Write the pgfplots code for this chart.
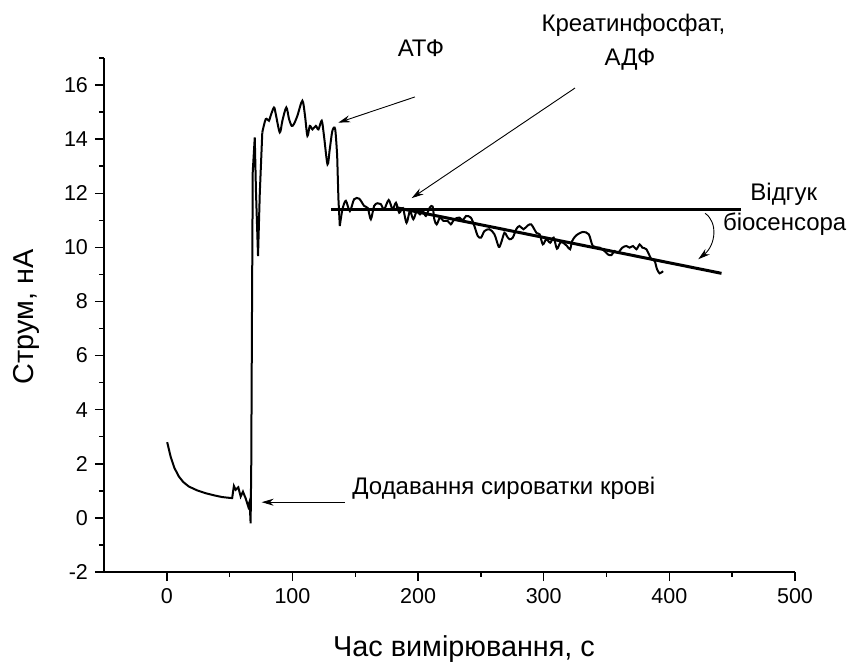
\documentclass[border=0pt]{standalone}
\usepackage{fontspec}
\setmainfont{Liberation Sans}
\usepackage{pgfplots}
\pgfplotsset{compat=1.18}
\usetikzlibrary{arrows.meta}
\begin{document}
\begin{tikzpicture}
\begin{axis}[
  at={(0,0)}, anchor=south west,
  scale only axis, width=345.5pt, height=257pt,
  xmin=-50, xmax=500, ymin=-2, ymax=17,
  axis x line*=bottom, axis y line*=left,
  xtick={0,100,...,500}, ytick={-2,0,...,16},
  minor xtick={50,150,...,450}, minor ytick={-1,1,...,17},
  tick align=outside,
  major tick length=4.5pt, minor tick length=2.5pt,
  tick style={black, line width=0.75pt},
  axis line style={line width=0.8pt},
  tick label style={font=\fontsize{10.75}{12}\selectfont},
  /pgf/number format/assume math mode=true,
  clip=false,
  xlabel={Час вимірювання, с},
  ylabel={Струм, нА},
  label style={font=\fontsize{14.4}{16}\selectfont},
  xlabel style={at={(axis description cs:0.521,-0.165)}, anchor=base},
  ylabel style={at={(axis description cs:-0.1027,0.4967)}, anchor=base},
]
% baseline and rise
\addplot[black, line width=1pt] coordinates {
(0.3,2.8) (3,2.27) (6,1.85) (9.6,1.53) (13,1.33) (17.5,1.16) (24,1.02) (31,0.91)
(38,0.83) (44,0.77) (52,0.73) (53.4,1.18) (54.8,1.04) (56.9,1.13) (58.8,0.79)
(60.6,0.97) (62.7,0.73) (64.8,0.42) (65.9,0.6) (66.7,-0.2) (67.2,1.9) (67.8,7.6)
(68.4,12.8) (70.0,14.06) (71.0,12.0) (72.6,9.68) (74.0,12.0) (76,14.25)
};
% plateau after ATP
\addplot[black, line width=1pt, smooth, tension=0.5] coordinates {
(76,14.25) (78.7,14.74)
(81.3,14.68) (82.6,14.86) (85.3,15.17) (86.7,14.93) (89.9,14.25) (92,14.68)
(95.1,15.17) (97.3,14.74) (99.4,14.49) (101.2,14.56) (103.9,14.86) (107.9,15.42)
(110,14.86) (111.9,14.12) (113.8,14.49) (115.9,14.36) (118.6,14.49) (120.7,14.36)
(123.3,14.68) (125.1,14.12) (127.9,13.07) (129.7,13.63) (131.8,14.31) (134,14.37)
(135.6,13.38)
};
\addplot[black, line width=1pt] coordinates {(135.6,13.38) (136.6,11.78) (137.7,10.79)};
% response
\addplot[black, line width=1pt, smooth, tension=0.5] coordinates {
(137.7,10.79) (139.8,11.41) (142.5,11.72) (145.7,11.34)
(149.1,11.78) (153.1,11.8) (157.1,11.53) (160,11.45) (162.4,11.04) (165,11.53)
(167.7,11.63) (170.3,11.6) (173,11.41) (176.6,11.75) (179.7,11.41) (182.4,11.65)
(185,11.28) (187.9,11.45) (190.8,10.91) (193.5,11.34) (196.2,11.04) (198.9,11.34)
(201.5,11.22) (203.9,11.34) (206.2,11.16) (209.3,11.47) (211.6,11.51) (212.9,11.04)
(214.8,10.85) (217.4,11.1) (220.1,10.98) (223.5,10.98) (226.1,10.85) (228.8,11.04)
(232.9,11.1) (235.5,11.0) (238.2,11.16) (242,11.1) (244.8,10.79) (247.5,10.42)
(250.1,10.36) (252.8,10.6) (256.8,10.67) (260.8,10.48) (264.2,10.02) (266.1,10.17)
(268.7,10.54) (270.6,10.42) (272.7,10.3) (275.4,10.36) (278.1,10.67) (280.7,10.79)
(283.9,10.67) (287.3,10.81) (290,10.85) (292.5,10.67) (294.5,10.52) (296.8,10.48)
(299.3,10.11) (302,10.3) (305.2,10.17) (307.9,10.36) (310.5,9.95) (313.1,10.17)
(315.5,10.17) (318.5,10.05) (321,9.93) (322.6,10.23) (325.8,10.44) (331.2,10.57)
(335.9,10.48) (339.1,10.05) (344.5,9.99) (348.5,9.86) (351.1,9.74) (353.8,9.71)
(356.4,9.86) (359.1,9.8) (362.6,9.99) (365.8,10.05) (368.4,9.99) (371.1,10.05)
(373.8,9.93) (376.4,10.11) (378.5,9.99) (381.7,9.93) (385.7,9.56) (388.3,9.5)
(390.2,9.19) (392.3,9.04) (395,9.12)
};
\addplot[black, line width=1.5pt] coordinates {(131,11.41) (457,11.41)};
\addplot[black, line width=1.5pt] coordinates {(182.3,11.47) (441.5,9.04)};
% annotations
\node[anchor=base, font=\fontsize{12}{14}\selectfont] at (axis cs:202.3,17.05) {АТФ};
\node[anchor=base, font=\fontsize{12}{14}\selectfont] at (axis cs:371.4,17.97) {Креатинфосфат,};
\node[anchor=base, font=\fontsize{12}{14}\selectfont] at (axis cs:368.7,16.74) {АДФ};
\node[anchor=base west, inner sep=0pt, font=\fontsize{12}{14}\selectfont] at (axis cs:464.2,11.73) {Відгук};
\node[anchor=base west, inner sep=0pt, font=\fontsize{12}{14}\selectfont] at (axis cs:442.4,10.64) {біосенсора};
\node[anchor=base west, inner sep=0pt, font=\fontsize{12}{14}\selectfont] at (axis cs:147.4,0.87) {Додавання сироватки крові};
\draw[line width=0.45pt, -{Stealth[length=6pt,width=3.5pt]}] (axis cs:197.5,15.56) -- (axis cs:136.5,14.61);
\draw[line width=0.45pt, -{Stealth[length=6pt,width=3.5pt]}] (axis cs:324.9,15.89) -- (axis cs:194.9,11.82);
\draw[line width=0.45pt, -{Stealth[length=6pt,width=3.5pt]}] (axis cs:141.8,0.58) -- (axis cs:75.5,0.58);
\draw[line width=0.45pt, -{Stealth[length=6pt,width=3.5pt]}] (axis cs:428.4,11.26) .. controls (axis cs:438.7,10.94) and (axis cs:437.1,10.09) .. (axis cs:423,9.56);
\end{axis}
\pgfresetboundingbox
\path[use as bounding box] (-52pt,-46pt) rectangle (371.5pt,286pt);
\end{tikzpicture}
\end{document}
